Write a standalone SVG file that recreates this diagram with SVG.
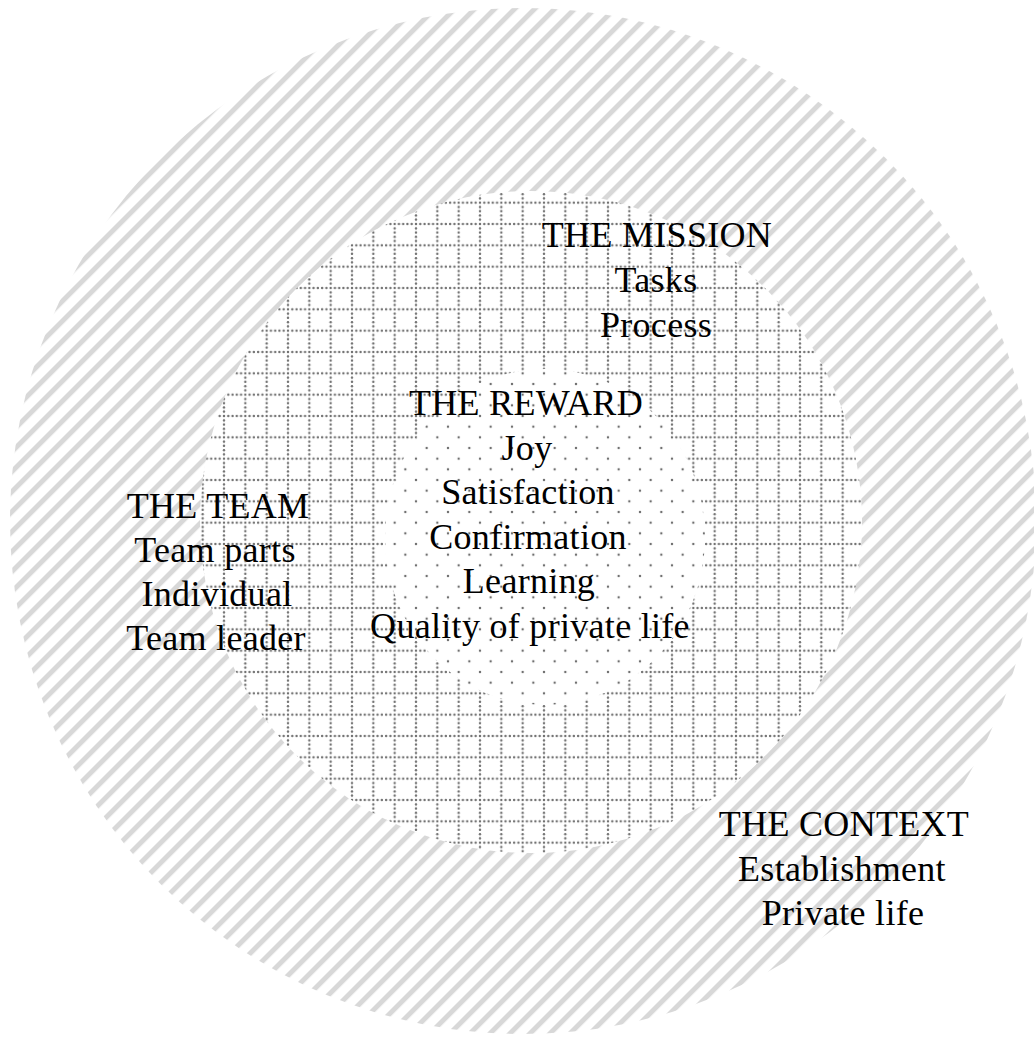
<svg xmlns="http://www.w3.org/2000/svg" width="1034" height="1039" viewBox="0 0 1034 1039">
  <style>
    .t { font-family: "Liberation Serif", "Times New Roman", serif; font-size: 36px; letter-spacing: 0.3px; fill: #000; text-anchor: middle; }
  </style>
  <defs>
    <pattern id="hatch" patternUnits="userSpaceOnUse" width="14.142" height="14.142" patternTransform="rotate(45)">
      <rect x="0" y="0" width="5" height="14.142" fill="#d8d8d8"/>
    </pattern>
    <pattern id="grid" patternUnits="userSpaceOnUse" x="10.667" y="10.667" width="21.333" height="21.333">
      <g fill="#6e6e6e">
        <circle cx="0" cy="0" r="1.2"/>
        <circle cx="4.267" cy="0" r="1.2"/>
        <circle cx="8.533" cy="0" r="1.2"/>
        <circle cx="12.8" cy="0" r="1.2"/>
        <circle cx="17.067" cy="0" r="1.2"/>
        <circle cx="21.333" cy="0" r="1.2"/>
        <circle cx="0" cy="4.267" r="1.2"/>
        <circle cx="0" cy="8.533" r="1.2"/>
        <circle cx="0" cy="12.8" r="1.2"/>
        <circle cx="0" cy="17.067" r="1.2"/>
        <circle cx="0" cy="21.333" r="1.2"/>
        <circle cx="21.333" cy="21.333" r="1.2"/>
        <circle cx="21.333" cy="4.267" r="1.2"/>
        <circle cx="21.333" cy="8.533" r="1.2"/>
        <circle cx="21.333" cy="12.8" r="1.2"/>
        <circle cx="21.333" cy="17.067" r="1.2"/>
        <circle cx="4.267" cy="21.333" r="1.2"/>
        <circle cx="8.533" cy="21.333" r="1.2"/>
        <circle cx="12.8" cy="21.333" r="1.2"/>
        <circle cx="17.067" cy="21.333" r="1.2"/>
      </g>
    </pattern>
    <pattern id="sparse" patternUnits="userSpaceOnUse" x="10.667" y="10.667" width="21.333" height="21.333">
      <g fill="#6e6e6e">
        <circle cx="0" cy="0" r="1.2"/>
        <circle cx="21.333" cy="0" r="1.2"/>
        <circle cx="0" cy="21.333" r="1.2"/>
        <circle cx="21.333" cy="21.333" r="1.2"/>
        <circle cx="10.667" cy="10.667" r="1.2"/>
      </g>
    </pattern>
  </defs>
  <rect width="1034" height="1039" fill="#fff"/>

  <g id="context-circle">
    <circle cx="523" cy="521" r="513" fill="url(#hatch)"/>
  </g>
  <g id="team-mission-circle">
    <circle cx="531" cy="522" r="331" fill="#fff"/>
    <circle cx="531" cy="522" r="331" fill="url(#grid)"/>
  </g>
  <g id="reward-circle">
    <ellipse cx="545" cy="537" rx="160" ry="168" fill="#fff"/>
    <ellipse cx="545" cy="537" rx="160" ry="168" fill="url(#sparse)"/>
  </g>

  <g id="connectors"/>

  <g id="mission">
    <text class="t" x="657" y="247">THE MISSION</text>
    <text class="t" x="656" y="292">Tasks</text>
    <text class="t" x="656" y="337">Process</text>
  </g>
  <g id="reward">
    <text class="t" x="526" y="415">THE REWARD</text>
    <text class="t" x="527" y="459.5">Joy</text>
    <text class="t" x="528" y="504">Satisfaction</text>
    <text class="t" x="528" y="548.5">Confirmation</text>
    <text class="t" x="529" y="593">Learning</text>
    <text class="t" x="530" y="637.5">Quality of private life</text>
  </g>
  <g id="team">
    <text class="t" x="218" y="518">THE TEAM</text>
    <text class="t" x="215" y="562">Team parts</text>
    <text class="t" x="217" y="606">Individual</text>
    <text class="t" x="216" y="650">Team leader</text>
  </g>
  <g id="context">
    <text class="t" x="844" y="836">THE CONTEXT</text>
    <text class="t" x="842" y="880.5">Establishment</text>
    <text class="t" x="843" y="925">Private life</text>
  </g>
</svg>
